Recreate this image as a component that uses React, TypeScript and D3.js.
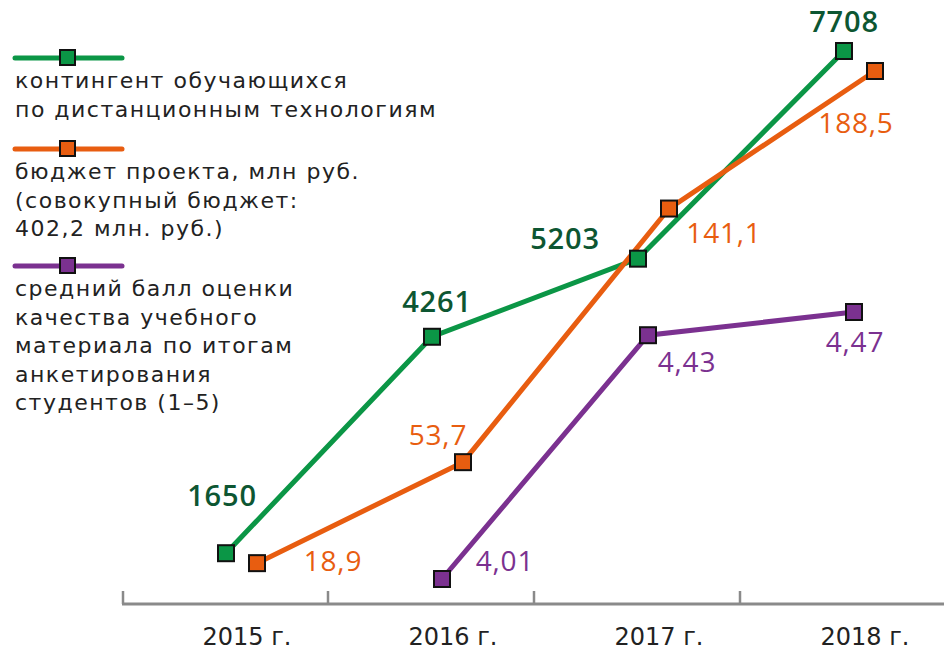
import React from "react";
import * as d3 from "d3";

const years = ["2015 г.", "2016 г.", "2017 г.", "2018 г."];
const students = [1650, 4261, 5203, 7708];
const budget = [18.9, 53.7, 141.1, 188.5];
const rating: (number | null)[] = [null, 4.01, 4.43, 4.47];

const legendGreen = ["контингент обучающихся", "по дистанционным технологиям"];
const legendOrange = ["бюджет проекта, млн руб.", "(совокупный бюджет:", "402,2 млн. руб.)"];
const legendPurple = ["средний балл оценки", "качества учебного", "материала по итогам", "анкетирования", "студентов (1–5)"];

// label offsets (layout)
const greenOff = [[-4, -47], [5, -25], [-73, -10], [0, -19]];
const orangeOff = [[76, 8], [-25, -17], [55, 34], [-19, 62]];
const purpleOff = [[0, 0], [63, -8], [39, 37], [1, 40]];

const FONT = "DejaVu Sans, sans-serif";
const NUMFONT = "'Open Sans', sans-serif";
const W = 944, H = 650;

const C = {
  green: "#0b9646",
  greenText: "#0d5632",
  orange: "#e85d10",
  purple: "#7b3190",
  axis: "#8a8a8a",
};

const fmt = (v: number) => String(v).replace(".", ",");

export default function App() {
  const x = d3.scaleBand<string>().domain(years).range([122, 946]);
  const cx = (i: number) => (x(years[i]) as number) + x.bandwidth() / 2;
  const yS = d3.scaleLinear().domain([0, 7708]).range([690, 51]);
  const yB = d3.scaleLinear().domain([0, 188.5]).range([618, 71]);
  const yR = d3.scaleLinear().domain([4.01, 4.47]).range([579, 312]);

  const gPts = students.map((v, i) => [cx(i) + 1, yS(v)] as [number, number]);
  const oPts = budget.map((v, i) => [cx(i) + 32, yB(v)] as [number, number]);
  const pPts = rating
    .map((v, i) => (v == null ? null : ([cx(i) + 11, yR(v)] as [number, number])))
    .filter((p): p is [number, number] => p !== null);
  const pVals = rating.filter((v): v is number => v != null);
  const pOff = purpleOff.slice(1);

  const line = d3.line<[number, number]>();
  const marker = (p: [number, number], fill: string, k: string) => (
    <rect key={k} x={p[0] - 8} y={p[1] - 8} width={16} height={16} fill={fill} stroke="#111" strokeWidth={2} />
  );

  const legendItem = (y: number, color: string, lines: string[], k: string) => (
    <g key={k}>
      <line x1={15} x2={122} y1={y} y2={y} stroke={color} strokeWidth={5} strokeLinecap="round" />
      <rect x={60} y={y - 8} width={15} height={15} fill={color} stroke="#111" strokeWidth={2} />
      {lines.map((t, i) => (
        <text key={i} x={15} y={y + 30 + i * 28.5} fontSize={22} fontFamily={FONT} fill="#222" letterSpacing={1.5}>
          {t}
        </text>
      ))}
    </g>
  );

  const ticks = [0, 1, 2, 3].map((i) => x(years[i]) as number);

  return (
    <div style={{ position: "absolute", left: 0, top: 0 }}>
      <svg width={W} height={H} style={{ display: "block", background: "#fff" }}>
        {/* axis */}
        <line x1={122} x2={944} y1={604} y2={604} stroke={C.axis} strokeWidth={3} />
        {ticks.map((t, i) => (
          <line key={i} x1={t + (i === 0 ? 1 : 0)} x2={t + (i === 0 ? 1 : 0)} y1={591} y2={604} stroke={C.axis} strokeWidth={2.5} />
        ))}
        {years.map((yr, i) => (
          <text key={yr} x={cx(i) + 22} y={645} textAnchor="middle" fontSize={24} fontFamily={FONT} fill="#222">
            {yr}
          </text>
        ))}

        {/* legend */}
        {legendItem(58, C.green, legendGreen, "lg")}
        {legendItem(149, C.orange, legendOrange, "lo")}
        {legendItem(266, C.purple, legendPurple, "lp")}

        {/* lines */}
        <path d={line(gPts) || ""} fill="none" stroke={C.green} strokeWidth={5} />
        <path d={line(oPts) || ""} fill="none" stroke={C.orange} strokeWidth={5} />
        <path d={line(pPts) || ""} fill="none" stroke={C.purple} strokeWidth={5} />

        {gPts.map((p, i) => marker(p, C.green, "g" + i))}
        {oPts.map((p, i) => marker(p, C.orange, "o" + i))}
        {pPts.map((p, i) => marker(p, C.purple, "p" + i))}

        {/* value labels */}
        {students.map((v, i) => (
          <text key={"gs" + i} x={gPts[i][0] + greenOff[i][0]} y={gPts[i][1] + greenOff[i][1]} textAnchor="middle"
            fontSize={29} fontWeight={600} fontFamily={NUMFONT} fill={C.greenText} letterSpacing={0.8}>
            {fmt(v)}
          </text>
        ))}
        {budget.map((v, i) => (
          <text key={"bs" + i} x={oPts[i][0] + orangeOff[i][0]} y={oPts[i][1] + orangeOff[i][1]} textAnchor="middle"
            fontSize={28} fontFamily={NUMFONT} fill={C.orange} letterSpacing={0.8}>
            {fmt(v)}
          </text>
        ))}
        {pVals.map((v, i) => (
          <text key={"ps" + i} x={pPts[i][0] + pOff[i][0]} y={pPts[i][1] + pOff[i][1]} textAnchor="middle"
            fontSize={28} fontFamily={NUMFONT} fill={C.purple} letterSpacing={0.8}>
            {fmt(v)}
          </text>
        ))}
      </svg>
    </div>
  );
}
